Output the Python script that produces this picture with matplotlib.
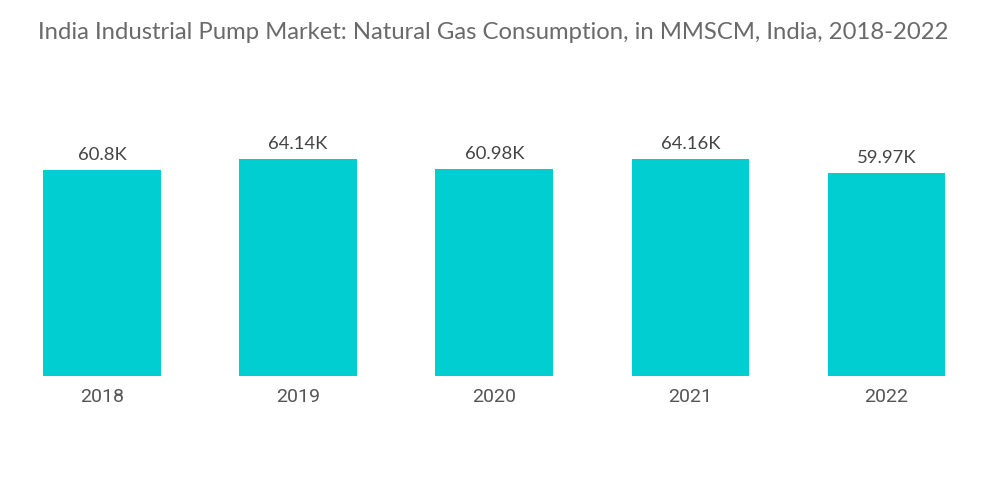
import matplotlib
matplotlib.use("Agg")
import matplotlib.pyplot as plt

# data
years = ["2018", "2019", "2020", "2021", "2022"]
consumption = [60.8, 64.14, 60.98, 64.16, 59.97]  # thousand MMSCM
value_labels = ["60.8K", "64.14K", "60.98K", "64.16K", "59.97K"]

bar_color = "#00CED1"

fig = plt.figure(figsize=(10, 5.04), dpi=100)
ax = fig.add_axes([0.004, 0.254, 0.9805, 0.538])

x = range(len(years))
bars = ax.bar(x, consumption, width=0.6, color=bar_color)

for xi, v, lab in zip(x, consumption, value_labels):
    ax.annotate(lab, (xi, v), xytext=(0, 5), textcoords="offset points",
                ha="center", va="bottom", fontsize=13.3, color="#444444",
                family="Lato")

ax.set_xlim(-0.5, len(years) - 0.5)
ax.set_ylim(0, 80)
ax.set_xticks(list(x))
ax.set_xticklabels(years, fontsize=14, color="#555555", family="Roboto")
ax.tick_params(axis="x", length=0, pad=9)
ax.set_yticks([])
for s in ax.spines.values():
    s.set_visible(False)

fig.text(0.038, 0.936, "India Industrial Pump Market: Natural Gas Consumption, in MMSCM, India, 2018-2022",
         fontsize=17.2, color="#6a6a6a", family="Lato", va="center", ha="left")

fig.savefig("out.png", dpi=100)
